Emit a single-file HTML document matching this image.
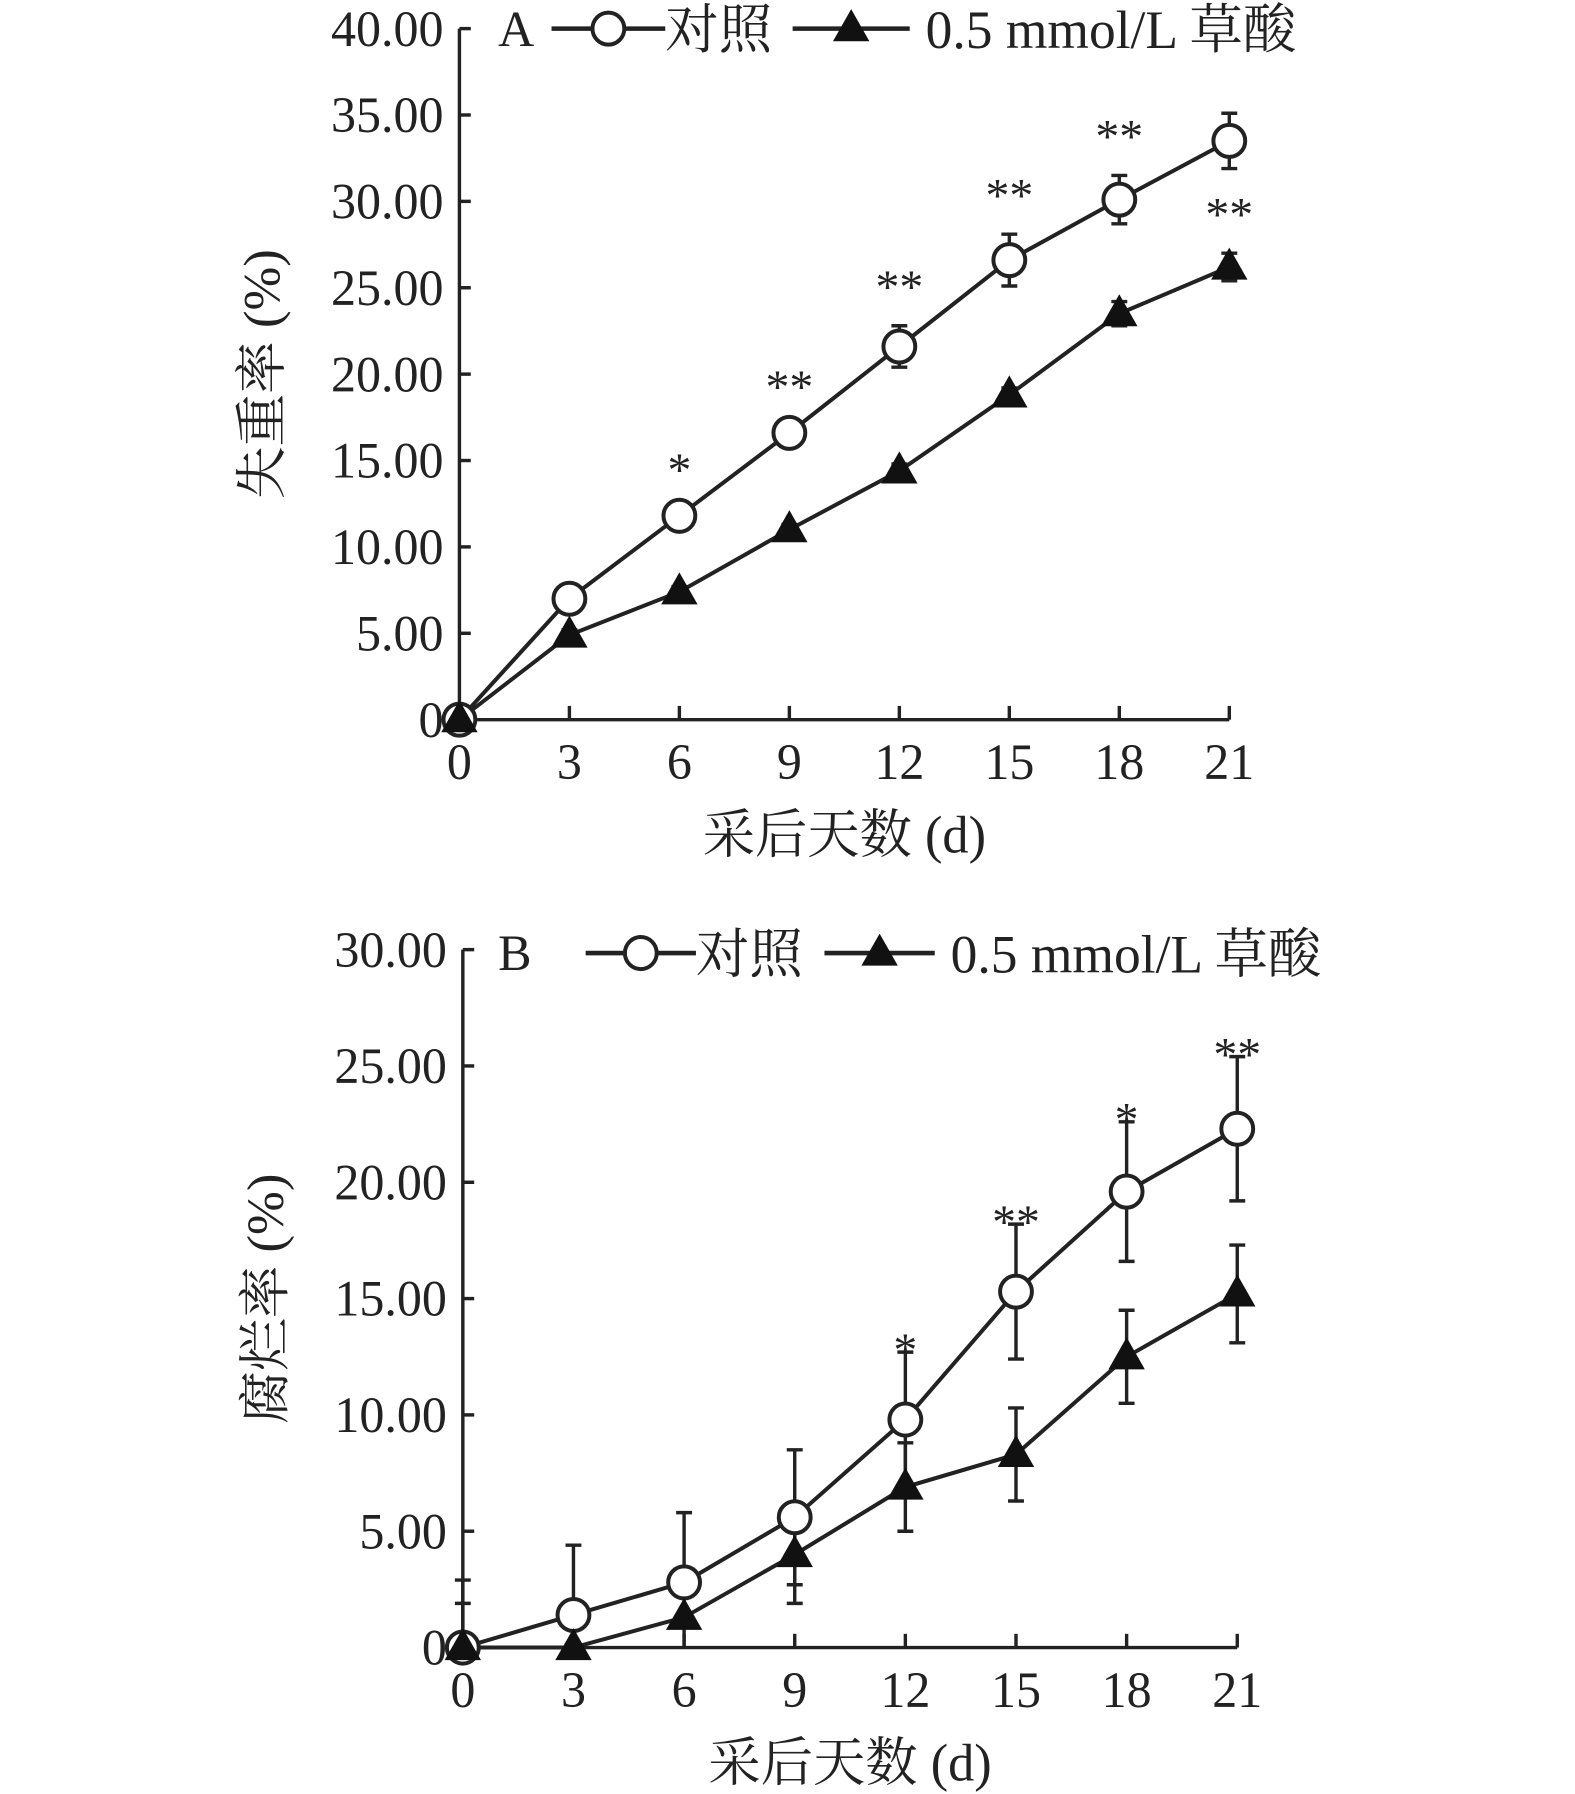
<!DOCTYPE html>
<html><head><meta charset="utf-8"><style>
html,body{margin:0;padding:0;background:#fff}
svg{display:block}
text{font-family:"Liberation Serif","Noto Serif CJK SC",serif;fill:#222}
</style></head><body>
<svg id="fig" width="1575" height="1794" viewBox="0 0 1385 1568" preserveAspectRatio="none" xmlns="http://www.w3.org/2000/svg"></svg>
<script>
const days=[0,3,6,9,12,15,18,21];
const aCtrl=[0,7.0,11.8,16.6,21.6,26.6,30.1,33.5];
const aCtrlErr=[0,0.4,0.4,0.4,1.2,1.5,1.4,1.6];
const aTrt=[0,4.9,7.4,11.0,14.4,18.8,23.5,26.2];
const aTrtErr=[0,0.3,0.3,0.3,0.4,0.4,0.7,0.8];
const aStars=["","","*","**","**","**","**","**"];
const aTicks=["0","5.00","10.00","15.00","20.00","25.00","30.00","35.00","40.00"];
const bCtrl=[0,1.4,2.8,5.6,9.8,15.3,19.6,22.3];
const bCtrlErr=[2.9,3.0,3.0,2.9,2.9,2.9,3.0,3.1];
const bTrt=[0,0,1.3,4.0,6.9,8.3,12.5,15.2];
const bTrtErr=[1.9,0,0,2.1,1.9,2.0,2.0,2.1];
const bStars=["","","","","*","**","*","**"];
const bTicks=["0","5.00","10.00","15.00","20.00","25.00","30.00"];
const NS="http://www.w3.org/2000/svg";
const svg=document.getElementById('fig');
function el(t,a,p){const e=document.createElementNS(NS,t);for(const k in a)e.setAttribute(k,a[k]);(p||svg).appendChild(e);return e;}
function txt(s,a,p){const e=el('text',a,p);e.textContent=s;return e;}
function panel(o){
  const g=el('g',{});
  
  
  const X=d=>o.x0+(o.x1-o.x0)*d/21;
  const Y=v=>o.y0-(o.y0-o.yTop)*v/o.ymax;
  const ax=el('path',{d:`M${o.x0},${o.yTop} V${o.y0} H${X(21)}`,stroke:'#222','stroke-width':3,fill:'none'},g);
  
  
  o.ticks.forEach((t,i)=>{const v=i*5;const y=Y(v);
    el('line',{x1:o.x0,x2:o.x0+10,y1:y,y2:y,stroke:'#222','stroke-width':3},g);
    const tl=txt(t,{x:o.x0-14,y:y+15,'text-anchor':'end','font-size':44},g);
    
    
  });
  days.forEach(d=>{const x=X(d);
    el('line',{x1:x,x2:x,y1:o.y0,y2:o.y0-12,stroke:'#222','stroke-width':3},g);
    const tl=txt(String(d),{x:x,y:o.y0+52,'text-anchor':'middle','font-size':44},g);
    
    
  });
  const xt=txt('采后天数 (d)',{x:(o.x0+X(21))/2,y:o.y0+116,'text-anchor':'middle','font-size':46},g);
  
  
  const yc=(o.yTop+o.y0)/2;
  const yt=txt(o.ytitle,{x:0,y:0,'text-anchor':'middle','font-size':46,transform:`translate(${o.x0-158},${yc}) rotate(-90)`},g);
  
  
  function series(vals,errs,tri,nm){
    const pts=vals.map((v,i)=>[X(days[i]),Y(v)]);
    errs.forEach((e,i)=>{if(!e)return;const x=pts[i][0];
      const lo=Math.max(0,vals[i]-e);
      let d=`M${x},${Y(lo)}V${Y(vals[i]+e)}M${x-7},${Y(vals[i]+e)}h14`;
      if(lo>0)d+=`M${x-7},${Y(lo)}h14`;
      const eb=el('path',{d:d,stroke:'#222','stroke-width':3,fill:'none'},g);
      
      
    });
    const ln=el('polyline',{points:pts.map(p=>p.join(',')).join(' '),stroke:'#222','stroke-width':3.5,fill:'none'},g);
    
    
    return pts;
  }
  function markers(pts,tri,nm){
    pts.forEach(p=>{let m;
      if(tri)m=el('path',{d:`M${p[0]},${p[1]-17}L${p[0]+16},${p[1]+11}L${p[0]-16},${p[1]+11}Z`,fill:'#111'},g);
      else m=el('circle',{cx:p[0],cy:p[1],r:14,fill:'#fff',stroke:'#222','stroke-width':3.5},g);
      
      
    });
  }
  const pc=series(o.ctrl,o.ctrlErr,false,'control');
  const pt=series(o.trt,o.trtErr,true,'treatment');
  markers(pc,false,'control');
  markers(pt,true,'treatment');
  o.stars.forEach((s,i)=>{if(!s)return;
    const useTrt=o.starOnTrt&&i===7;
    const base=useTrt?o.trt[i]+o.trtErr[i]:o.ctrl[i]+o.ctrlErr[i];
    const st=txt(s,{x:X(days[i]),y:Y(base)-o.starGap,'text-anchor':'middle','font-size':42},g);
    
    
  });
  const L=o.leg, ly=L.y;
  const lg=el('g',{},g);
  
  
  txt(o.letter,{x:L.letter,y:ly+15,'font-size':44},lg);
  el('line',{x1:L.c1,x2:L.c2,y1:ly,y2:ly,stroke:'#222','stroke-width':4},lg);
  el('circle',{cx:(L.c1+L.c2)/2,cy:ly,r:14,fill:'#fff',stroke:'#222','stroke-width':3.5},lg);
  txt('对照',{x:L.c2,y:ly+17,'font-size':47},lg);
  el('line',{x1:L.t1,x2:L.t2,y1:ly,y2:ly,stroke:'#222','stroke-width':4},lg);
  const tx=(L.t1+L.t2)/2;
  el('path',{d:`M${tx},${ly-17}L${tx+16},${ly+11}L${tx-16},${ly+11}Z`,fill:'#111'},lg);
  txt('0.5 mmol/L 草酸',{x:L.t2+14,y:ly+17,'font-size':47},lg);
}
panel({name:'chart-a',x0:404,x1:1081,y0:629,yTop:25,ymax:40,ticks:aTicks,ctrl:aCtrl,ctrlErr:aCtrlErr,trt:aTrt,trtErr:aTrtErr,stars:aStars,starOnTrt:true,starGap:20,ytitle:'失重率 (%)',letter:'A',leg:{y:25,letter:438,c1:485,c2:585,t1:697,t2:800}});
panel({name:'chart-b',x0:407,x1:1088,y0:1440,yTop:830,ymax:30,ticks:bTicks,ctrl:bCtrl,ctrlErr:bCtrlErr,trt:bTrt,trtErr:bTrtErr,stars:bStars,starOnTrt:false,starGap:-12,ytitle:'腐烂率 (%)',letter:'B',leg:{y:833,letter:438,c1:515,c2:612,t1:725,t2:822}});
</script>
</body></html>
